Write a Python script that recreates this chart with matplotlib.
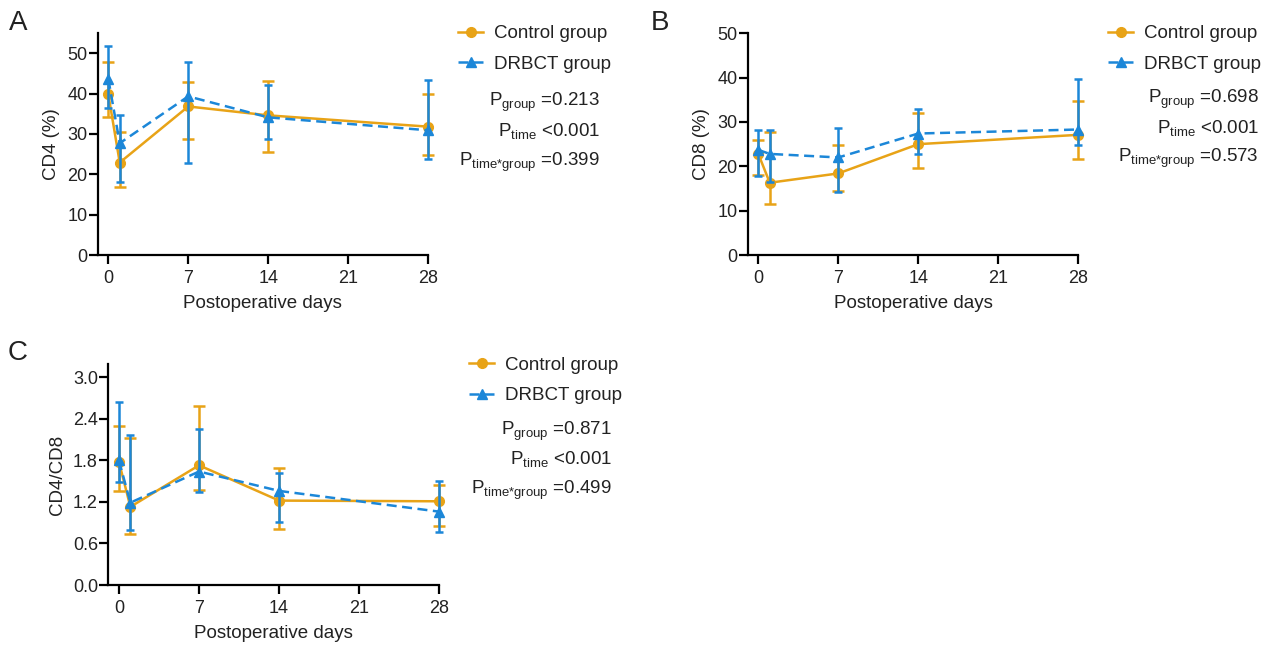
import numpy as np
import matplotlib
matplotlib.use('Agg')
import matplotlib.pyplot as plt

plt.rcParams['font.family'] = ['Liberation Sans', 'DejaVu Sans']
plt.rcParams['mathtext.default'] = 'regular'

days = [0, 1, 7, 14, 28]
x_ticks = [0, 7, 14, 21, 28]

# CD4 (%)
cd4_ctrl = [39.8, 22.9, 36.8, 34.6, 31.8]
cd4_ctrl_lo = [34.3, 16.8, 28.7, 25.6, 24.8]
cd4_ctrl_hi = [47.7, 30.5, 42.9, 43.2, 39.8]
cd4_drbct = [43.6, 27.7, 39.3, 34.1, 30.9]
cd4_drbct_lo = [36.4, 18.0, 22.9, 28.7, 23.8]
cd4_drbct_hi = [51.7, 34.7, 47.8, 42.1, 43.3]

# CD8 (%)
cd8_ctrl = [22.8, 16.3, 18.4, 25.0, 27.1]
cd8_ctrl_lo = [18.0, 11.6, 14.5, 19.7, 21.7]
cd8_ctrl_hi = [25.9, 27.7, 24.8, 32.0, 34.7]
cd8_drbct = [23.7, 22.8, 22.0, 27.4, 28.3]
cd8_drbct_lo = [17.9, 16.5, 14.3, 22.8, 24.8]
cd8_drbct_hi = [28.3, 28.3, 28.7, 32.9, 39.6]

# CD4/CD8
ratio_ctrl = [1.78, 1.13, 1.73, 1.22, 1.21]
ratio_ctrl_lo = [1.36, 0.74, 1.38, 0.81, 0.85]
ratio_ctrl_hi = [2.30, 2.12, 2.59, 1.69, 1.45]
ratio_drbct = [1.80, 1.19, 1.64, 1.36, 1.06]
ratio_drbct_lo = [1.49, 0.79, 1.34, 0.91, 0.77]
ratio_drbct_hi = [2.64, 2.17, 2.26, 1.62, 1.50]

p_texts_a = ['=0.213', '<0.001', '=0.399']
p_texts_b = ['=0.698', '<0.001', '=0.573']
p_texts_c = ['=0.871', '<0.001', '=0.499']
p_names = [r'$P_{group}$', r'$P_{time}$', r'$P_{time{*}group}$']

YELLOW = '#E8A317'
BLUE = '#1C87D8'
TXT = '#222222'

W, H = 1269, 648
fig = plt.figure(figsize=(W / 100, H / 100), dpi=100)


def px_axes(left, right, top, bottom):
    return fig.add_axes([left / W, 1 - bottom / H, (right - left) / W, (bottom - top) / H])


def errs(v, lo, hi):
    v = np.array(v)
    return [v - np.array(lo), np.array(hi) - v]


def panel(ax, ctrl, clo, chi, drb, dlo, dhi, ymax, yticks, fmt, ylabel):
    e1 = ax.errorbar(days, ctrl, yerr=errs(ctrl, clo, chi), color=YELLOW, lw=1.8, marker='o', ms=7,
                     elinewidth=1.8, capsize=4, capthick=1.8, zorder=3)
    e2 = ax.errorbar(days, drb, yerr=errs(drb, dlo, dhi), color=BLUE, lw=1.8, marker='^', ms=7,
                     ls=(0, (4, 2.2)), elinewidth=1.8, capsize=3, capthick=1.8, zorder=4)
    ax.set_xlim(-0.93, 28)
    ax.set_ylim(0, ymax)
    ax.set_xticks(x_ticks)
    ax.set_yticks(yticks)
    ax.set_yticklabels([fmt.format(t) for t in yticks])
    for s in ['top', 'right']:
        ax.spines[s].set_visible(False)
    for s in ['left', 'bottom']:
        ax.spines[s].set_linewidth(1.6)
        ax.spines[s].set_color('black')
    ax.tick_params(direction='out', length=6.5, width=1.6, labelsize=13, labelcolor=TXT)
    ax.tick_params(axis='y', pad=1)
    ax.tick_params(axis='x', pad=4)
    ax.set_xlabel('Postoperative days', fontsize=13.5, color=TXT, labelpad=6)
    ax.set_ylabel(ylabel, fontsize=13.5, color=TXT, labelpad=5)
    for c in ax.get_children():
        c.set_clip_on(False)
    return [e1.lines[0], e2.lines[0]]


def legend_and_p(handles, hx, hy, px, pys, ptexts):
    fig.legend(handles, ['Control group', 'DRBCT group'], loc='center left',
               bbox_to_anchor=(hx / W, 1 - hy / H),
               frameon=False, fontsize=13.5, borderpad=0, borderaxespad=0,
               handlelength=1.35, handletextpad=0.55, labelspacing=0.72, labelcolor=TXT)
    for name, val, py in zip(p_names, ptexts, pys):
        fig.text(px / W, 1 - py / H, name + ' ' + val, ha='right', va='baseline',
                 fontsize=13.5, color=TXT)


ax_a = px_axes(97.7, 428, 33, 255)
h = panel(ax_a, cd4_ctrl, cd4_ctrl_lo, cd4_ctrl_hi, cd4_drbct, cd4_drbct_lo, cd4_drbct_hi,
          55, [0, 10, 20, 30, 40, 50], '{:.0f}', 'CD4 (%)')
legend_and_p(h, 458, 49, 600, [106, 136, 166], p_texts_a)

ax_b = px_axes(747.7, 1078.3, 33.3, 255)
h = panel(ax_b, cd8_ctrl, cd8_ctrl_lo, cd8_ctrl_hi, cd8_drbct, cd8_drbct_lo, cd8_drbct_hi,
          50, [0, 10, 20, 30, 40, 50], '{:.0f}', 'CD8 (%)')
legend_and_p(h, 1108, 49, 1259, [103, 133, 162], p_texts_b)

ax_c = px_axes(108.3, 439.3, 364.3, 585)
h = panel(ax_c, ratio_ctrl, ratio_ctrl_lo, ratio_ctrl_hi, ratio_drbct, ratio_drbct_lo, ratio_drbct_hi,
          3.19, [0, 0.6, 1.2, 1.8, 2.4, 3.0], '{:.1f}', 'CD4/CD8')
legend_and_p(h, 469, 380.5, 612, [435, 464, 494], p_texts_c)

for lab, lx, ly in [('A', 18, 23), ('B', 660, 23), ('C', 18, 353)]:
    fig.text(lx / W, 1 - ly / H, lab, fontsize=20, color=TXT, ha='center', va='center')

plt.savefig('out.png', dpi=100)
